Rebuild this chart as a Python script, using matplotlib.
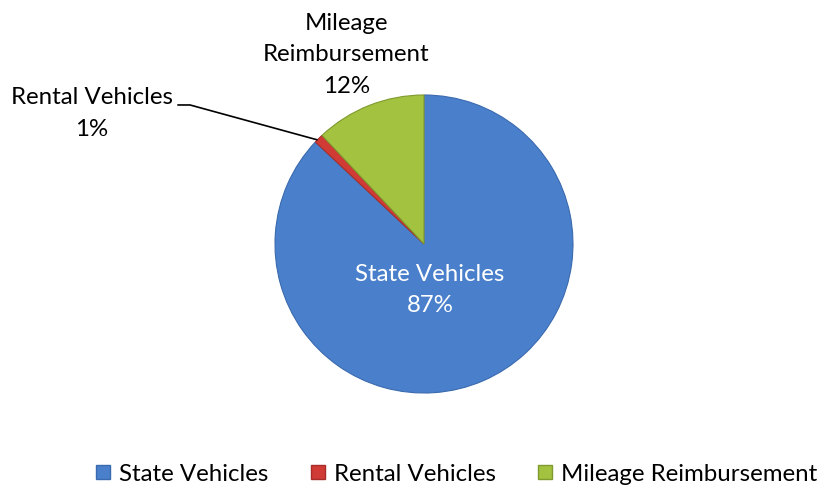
import matplotlib

matplotlib.use("Agg")

import matplotlib.pyplot as plt
from matplotlib.lines import Line2D

categories = ["State Vehicles", "Rental Vehicles", "Mileage Reimbursement"]
shares = [87, 1, 12]
colors = ["#4A80CB", "#D13B35", "#A3C23F"]
edge_colors = ["#3A6AAE", "#A82D29", "#7F9A2E"]

plt.rcParams["font.family"] = ["Lato", "DejaVu Sans"]
FS = 17.3
LS = 1.62

fig = plt.figure(figsize=(8.25, 4.9), dpi=100)
# pie centre ~ (424, 244) px, radius ~149 px
cx, cy, r = 424, 244, 149
ax = fig.add_axes([(cx - r) / 825, (490 - cy - r) / 490, 2 * r / 825, 2 * r / 490])
wedges, _ = ax.pie(shares, colors=colors, startangle=90, counterclock=False,
                   radius=1, wedgeprops={"linewidth": 0.8})
for w, ec in zip(wedges, edge_colors):
    w.set_edgecolor(ec)
ax.set_xlim(-1, 1)
ax.set_ylim(-1, 1)
ax.set_aspect("equal")
ax.axis("off")

ax.text(0.04, -0.31, f"{categories[0]}\n{shares[0]}%", color="white", fontsize=FS,
        ha="center", va="center", linespacing=LS)
ax.text(-0.52, 1.27, "Mileage\nReimbursement\n" + f"{shares[2]}%", color="black",
        fontsize=FS, ha="center", va="center", linespacing=LS, clip_on=False)
ax.text(-2.23, 0.875, f"{categories[1]}\n{shares[1]}%", color="black", fontsize=FS,
        ha="center", va="center", linespacing=LS, clip_on=False)
ax.plot([-1.65, -1.57, -0.72], [0.933, 0.933, 0.70], color="black", lw=1.2,
        clip_on=False)

handles = [Line2D([], [], marker="s", linestyle="none", markersize=10.5,
                  markerfacecolor=c, markeredgecolor=ec)
           for c, ec in zip(colors, edge_colors)]
fig.legend(handles, categories, loc="center", bbox_to_anchor=(455 / 825, 16 / 490),
           ncol=3, frameon=False, fontsize=FS, handlelength=0.86, handletextpad=0.25,
           columnspacing=1.6, borderpad=0, borderaxespad=0)

fig.savefig("out.png", dpi=100)
